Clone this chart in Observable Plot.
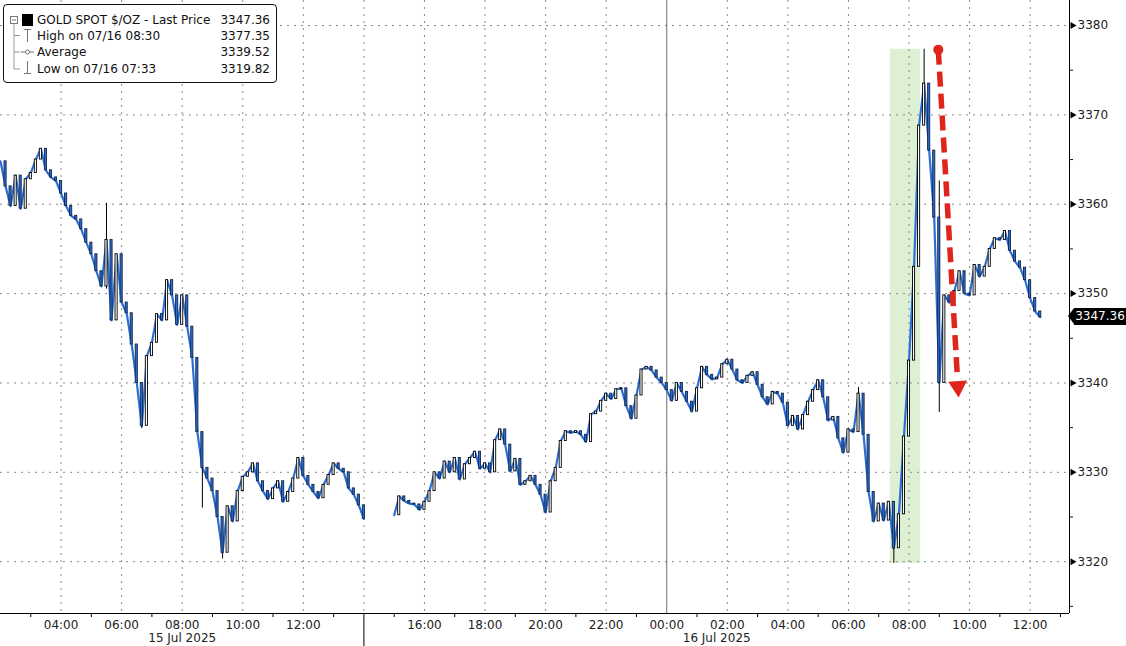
<!DOCTYPE html>
<html><head><meta charset="utf-8">
<script src="https://cdn.jsdelivr.net/npm/d3@7"></script>
<script src="https://cdn.jsdelivr.net/npm/@observablehq/plot@0.6"></script>
<style>
html,body{margin:0;padding:0;background:#fff;}
#wrap{position:relative;width:1126px;height:646px;font-family:"DejaVu Sans",sans-serif;}
.legend{position:absolute;left:3px;top:4px;width:272px;height:77px;border:1px solid #111;border-radius:4px;background:#fff;font-size:12px;color:#111;}
.legend svg{position:absolute;left:0;top:0;}
.row{position:absolute;left:33px;right:6px;height:16px;line-height:16px;display:flex;justify-content:space-between;white-space:nowrap;}
.tag{position:absolute;left:1074px;width:52px;height:17px;line-height:17px;background:#000;color:#fff;font-size:12px;text-align:center;}
.tag:before{content:"";position:absolute;left:-6px;top:0;border-top:8.5px solid transparent;border-bottom:8.5px solid transparent;border-right:6px solid #000;}
</style></head>
<body><div id="wrap"></div>
<script>
// ---- data (10-minute closes) ----
const stepHours = 1 / 6;
// Session 1: 15 Jul 2025 02:00 -> 14:00
const session1Start = 2;
const session1Close = [
3364.8,3362.0,3359.8,3363.2,3359.5,3362.8,3363.5,3365.0,3366.2,3363.8,
3363.0,3362.6,3361.2,3359.8,3358.7,3358.3,3357.2,3355.7,3354.4,3352.5,
3350.8,3356.0,3347.0,3354.4,3349.0,3347.8,3344.3,3340.0,3335.2,3343.0,
3344.5,3347.7,3347.0,3351.5,3349.8,3346.5,3349.8,3346.3,3342.8,3334.5,
3330.5,3329.3,3327.9,3325.0,3321.0,3326.2,3324.5,3327.9,3329.5,3330.0,
3331.0,3329.0,3327.9,3327.0,3328.2,3329.0,3326.7,3327.8,3329.3,3331.6,
3329.6,3328.6,3327.8,3327.1,3328.6,3329.7,3331.0,3330.4,3330.0,3328.2,
3327.5,3326.3,3324.8
];
// Session 2: 15 Jul 2025 15:00 -> 16 Jul 2025 12:20
const session2Start = 15;
const session2Close = [
3325.2,3327.3,3326.8,3326.5,3326.4,3325.8,3326.7,3327.9,3330.0,3329.3,
3331.2,3330.0,3331.6,3329.2,3330.9,3331.6,3332.3,3330.4,3331.0,3330.0,
3333.6,3334.8,3333.1,3330.1,3331.5,3328.6,3329.0,3329.6,3328.6,3327.5,
3325.5,3329.0,3330.5,3333.5,3334.6,3334.4,3334.6,3334.2,3333.4,3336.5,
3336.8,3338.0,3338.8,3338.2,3339.3,3339.4,3337.4,3336.0,3338.6,3341.5,
3341.8,3341.4,3340.6,3340.0,3339.2,3338.0,3340.0,3339.0,3337.9,3336.8,
3339.4,3341.8,3340.9,3340.4,3340.6,3342.1,3342.6,3341.5,3340.3,3340.0,
3340.8,3341.2,3339.8,3338.4,3337.6,3339.0,3338.8,3337.8,3335.2,3336.3,
3334.8,3336.4,3337.9,3339.2,3340.3,3338.4,3335.8,3336.2,3333.8,3332.2,
3334.8,3334.5,3338.8,3334.2,3327.8,3324.5,3326.5,3324.6,3326.7,3321.5,
3325.3,3334.0,3342.5,3353.0,3368.8,3373.5,3366.0,3358.5,3340.0,3349.8,
3349.0,3350.3,3352.5,3350.0,3349.8,3353.2,3351.9,3353.0,3355.0,3356.2,
3356.0,3357.0,3354.8,3353.6,3352.9,3351.5,3349.5,3348.0,3347.36
];
// notable wicks (day time, low, high)
const wickTimes = ["15 05:30","15 06:40","15 08:40","15 09:20","16 06:20","16 07:30","16 08:30","16 09:00"];
const wickLows  = [3350.5,3334.9,3326.0,3320.3,3334.8,3319.82,3368.8,3336.7];
const wickHighs = [3360.1,3340.0,3334.5,3325.0,3339.5,3326.7,3377.35,3362.6];

// axes
const yTicks = [3320,3330,3340,3350,3360,3370,3380];
const yMinor = [3315,3325,3335,3345,3355,3365,3375];
const xLabelHours = [4,6,8,10,12,16,18,20,22,24,26,28,30,32,34,36];
const xLabels = ["04:00","06:00","08:00","10:00","12:00","16:00","18:00","20:00","22:00","00:00","02:00","04:00","06:00","08:00","10:00","12:00"];
const xGridHours = [4,6,8,10,12,14,16,18,20,22,26,28,30,32,34,36];
const xMidnight = [24];
const xOddTicks = [3,5,7,9,11,13,15,17,19,21,23,25,27,29,31,33,35,37];
const daySeparator = [14];
const dayLabels = ["15 Jul 2025","16 Jul 2025"];
const dayRanges = [[2,14],[14,37.3]];
const xDomain = [2, 37.3];
const yDomain = [3314.2, 3382.8];

// annotations
const highlightTimes = ["16 07:23","16 08:23"];
const highlightRange = [3319.82, 3377.35];
const arrowTimes = ["16 08:58","16 09:37"];
const arrowPrices = [3377.3, 3339.6];

// legend
const seriesName = "GOLD SPOT $/OZ - Last Price";
const lastPrice = 3347.36;
const legendRows = [["High on 07/16 08:30","3377.35"],["Average","3339.52"],["Low on 07/16 07:33","3319.82"]];

// ---- build ----
const hoursOf = s => { const [d, hm] = s.split(" "); const [h, m] = hm.split(":").map(Number); return (+d - 15) * 24 + h + m / 60; };
function build(start, closes, sess) {
  return closes.map((c, i) => ({t: start + i * stepHours, close: c, open: i ? closes[i-1] : c, sess}));
}
const bars = [...build(session1Start, session1Close, 1), ...build(session2Start, session2Close, 2)];
const wicks = wickTimes.map((s, i) => ({t: hoursOf(s), lo: wickLows[i], hi: wickHighs[i]}));
const band = [{x1: hoursOf(highlightTimes[0]), x2: hoursOf(highlightTimes[1]), y1: highlightRange[0], y2: highlightRange[1]}];
const arrow = {x1: hoursOf(arrowTimes[0]), y1: arrowPrices[0], x2: hoursOf(arrowTimes[1]), y2: arrowPrices[1]};
const half = 0.035;
const blue = "#2d6fd2";
const red = "#e0251c";
const grid = {stroke: "#8a8a8a", strokeDasharray: "2,5", strokeWidth: 1};

const chart = Plot.plot({
  width: 1126, height: 646,
  marginLeft: 0, marginRight: 57, marginTop: 0, marginBottom: 33,
  style: {fontFamily: "DejaVu Sans, sans-serif", fontSize: "12px", color: "#111", background: "#fff"},
  x: {type: "linear", domain: xDomain, axis: null},
  y: {domain: yDomain, axis: null},
  marks: [
    Plot.rect(band, {x1: "x1", x2: "x2", y1: "y1", y2: "y2", fill: "#ddf0d4"}),
    Plot.ruleY(yTicks, grid),
    Plot.ruleX(xGridHours, grid),
    Plot.ruleX(xMidnight, {stroke: "#707070", strokeWidth: 1}),
    Plot.line(bars, {x: "t", y: "close", z: "sess", stroke: blue, strokeWidth: 2.2}),
    Plot.ruleX(wicks, {x: "t", y1: "lo", y2: "hi", stroke: "#000", strokeWidth: 1}),
    Plot.rect(bars, {x1: d => d.t - half, x2: d => d.t + half, y1: "open", y2: "close",
      fill: d => d.close >= d.open ? "#fff" : blue, stroke: d => d.close >= d.open ? "#000" : "#10264d", strokeWidth: 0.9}),
    Plot.link([arrow], {x1: "x1", y1: "y1", x2: d => d.x2 - (d.x2 - d.x1) * 0.04, y2: d => d.y2 + (d.y1 - d.y2) * 0.04,
      stroke: red, strokeWidth: 5.5, strokeDasharray: "15,7"}),
    Plot.dot([arrow], {x: "x1", y: "y1", r: 5, fill: red}),
    Plot.dot([arrow], {x: "x2", y: "y2", r: 7, symbol: "triangle", rotate: 176.7, fill: red}),
    // axis lines
    Plot.ruleY([yDomain[0]], {stroke: "#000"}),
    Plot.ruleX([xDomain[1]], {stroke: "#000"}),
    Plot.ruleX(daySeparator, {stroke: "#000", insetTop: 613, insetBottom: -33}),
    Plot.axisX({ticks: xOddTicks, tickSize: 4, tickFormat: () => "", label: null, stroke: "#000"}),
    Plot.text(xLabelHours, {x: d => d, y: yDomain[0], text: (d, i) => xLabels[i], dy: 12, fill: "#222"}),
    Plot.text(dayLabels, {x: (d, i) => (dayRanges[i][0] + dayRanges[i][1]) / 2, y: yDomain[0], text: d => d, dy: 25, fill: "#222"}),
    Plot.axisY({anchor: "right", ticks: yMinor, tickSize: 3, tickFormat: () => "", label: null}),
    Plot.axisY({anchor: "right", ticks: yTicks, tickSize: 0, tickPadding: 8, label: null, tickFormat: d => String(d), fill: "#222"}),
    Plot.dot(yTicks, {x: xDomain[1], y: d => d, symbol: "triangle", rotate: 90, r: 2.6, fill: "#000", dx: 3})
  ]
});
const wrap = document.getElementById("wrap");
wrap.appendChild(chart);

// legend overlay
const lg = document.createElement("div");
lg.className = "legend";
lg.innerHTML = `<svg width="34" height="77">
  <rect x="6.5" y="11.5" width="7" height="7" fill="#fff" stroke="#777"/>
  <line x1="8" y1="15" x2="12" y2="15" stroke="#777"/>
  <rect x="18" y="9" width="11" height="12" fill="#000"/>
  <line x1="10" y1="18.5" x2="10" y2="64" stroke="#999"/>
  <line x1="10" y1="30.5" x2="16" y2="30.5" stroke="#999"/>
  <line x1="10" y1="47" x2="16" y2="47" stroke="#999"/>
  <line x1="10" y1="64" x2="16" y2="64" stroke="#999"/>
  <line x1="20" y1="24.5" x2="27" y2="24.5" stroke="#777"/>
  <line x1="23.5" y1="24.5" x2="23.5" y2="37" stroke="#777"/>
  <line x1="17" y1="47" x2="30" y2="47" stroke="#777"/>
  <circle cx="23.5" cy="47" r="2" fill="#fff" stroke="#777"/>
  <line x1="23.5" y1="56" x2="23.5" y2="68.5" stroke="#777"/>
  <line x1="20" y1="68.5" x2="27" y2="68.5" stroke="#777"/>
</svg>`;
const rows = [[seriesName, lastPrice.toFixed(2)], ...legendRows];
const tops = [7, 23, 39, 56];
rows.forEach((r, i) => {
  const d = document.createElement("div");
  d.className = "row";
  d.style.top = tops[i] + "px";
  d.innerHTML = `<span></span><span></span>`;
  d.children[0].textContent = r[0];
  d.children[1].textContent = r[1];
  lg.appendChild(d);
});
wrap.appendChild(lg);

// last price tag
const tag = document.createElement("div");
tag.className = "tag";
tag.textContent = lastPrice.toFixed(2);
tag.style.top = (chart.scale("y").apply(lastPrice) - 8.5) + "px";
wrap.appendChild(tag);
</script></body></html>
